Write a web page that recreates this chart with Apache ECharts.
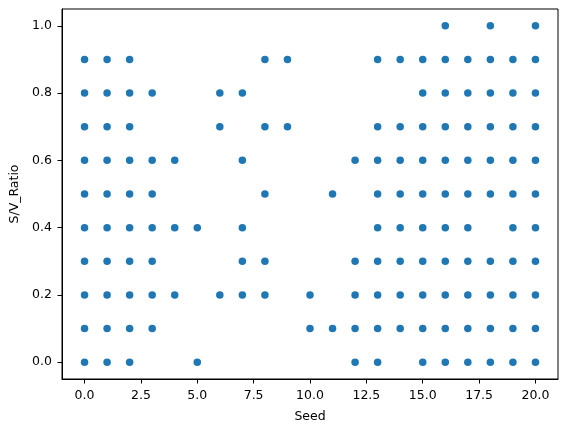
<!DOCTYPE html>
<html>
<head>
<meta charset="utf-8">
<script src="https://cdn.jsdelivr.net/npm/echarts@6/dist/echarts.min.js"></script>
<style>html,body{margin:0;padding:0;background:#fff}#chart{width:567px;height:432px}</style>
</head>
<body>
<div id="chart"></div>
<script>
// Seed values (x) and the S/V_Ratio values observed at each seed (y)
const seeds = [0,1,2,3,4,5,6,7,8,9,10,11,12,13,14,15,16,17,18,19,20];
const ratiosBySeed = [
  [0.0,0.1,0.2,0.3,0.4,0.5,0.6,0.7,0.8,0.9],
  [0.0,0.1,0.2,0.3,0.4,0.5,0.6,0.7,0.8,0.9],
  [0.0,0.1,0.2,0.3,0.4,0.5,0.6,0.7,0.8,0.9],
  [0.1,0.2,0.3,0.4,0.5,0.6,0.8],
  [0.2,0.4,0.6],
  [0.0,0.4],
  [0.2,0.7,0.8],
  [0.2,0.3,0.4,0.6,0.8],
  [0.2,0.3,0.5,0.7,0.9],
  [0.7,0.9],
  [0.1,0.2],
  [0.1,0.5],
  [0.0,0.1,0.2,0.3,0.6],
  [0.0,0.1,0.2,0.3,0.4,0.5,0.6,0.7,0.9],
  [0.1,0.2,0.3,0.4,0.5,0.6,0.7,0.9],
  [0.0,0.1,0.2,0.3,0.4,0.5,0.6,0.7,0.8,0.9],
  [0.0,0.1,0.2,0.3,0.4,0.5,0.6,0.7,0.8,0.9,1.0],
  [0.0,0.1,0.2,0.3,0.4,0.5,0.6,0.7,0.8,0.9],
  [0.0,0.1,0.2,0.3,0.5,0.6,0.7,0.8,0.9,1.0],
  [0.0,0.1,0.2,0.3,0.4,0.5,0.6,0.7,0.8,0.9],
  [0.0,0.1,0.2,0.3,0.4,0.5,0.6,0.7,0.8,0.9,1.0]
];
const xTicks = [0,2.5,5,7.5,10,12.5,15,17.5,20];
const yTicks = [0,0.2,0.4,0.6,0.8,1.0];
const xName = 'Seed';
const yName = 'S/V_Ratio';

const points = [];
seeds.forEach((s, i) => ratiosBySeed[i].forEach(r => points.push([s, r])));

const font = 'DejaVu Sans';
const fs = 12.5;
const axisCommon = {
  axisLine: {show: true, onZero: false, lineStyle: {color: '#000', width: 1}},
  axisTick: {show: true, length: 4.5, lineStyle: {color: '#000', width: 1}},
  splitLine: {show: false},
  nameTextStyle: {color: '#000', fontFamily: font, fontSize: fs},
};
const chart = echarts.init(document.getElementById('chart'), null, {renderer: 'canvas'});
chart.setOption({
  animation: false,
  backgroundColor: '#fff',
  grid: {left: 62, right: 9, top: 9, bottom: 53, containLabel: false, show: true, borderColor: '#000', borderWidth: 1},
  xAxis: Object.assign({}, axisCommon, {
    type: 'value', min: -1, max: 21,
    name: xName, nameLocation: 'middle', nameGap: 31,
    axisTick: Object.assign({}, axisCommon.axisTick, {customValues: xTicks}),
    axisLabel: {customValues: xTicks, margin: 10, color: '#000', fontFamily: font, fontSize: fs,
      formatter: v => v.toFixed(1)}
  }),
  yAxis: Object.assign({}, axisCommon, {
    type: 'value', min: -0.05, max: 1.05,
    name: yName, nameLocation: 'middle', nameGap: 38,
    axisTick: Object.assign({}, axisCommon.axisTick, {customValues: yTicks}),
    axisLabel: {customValues: yTicks, margin: 10, color: '#000', fontFamily: font, fontSize: fs,
      formatter: v => v.toFixed(1)}
  }),
  series: [{
    type: 'scatter',
    data: points,
    symbol: 'circle',
    symbolSize: 7.5,
    itemStyle: {color: '#1f77b4', opacity: 1}
  }]
});
</script>
</body>
</html>
